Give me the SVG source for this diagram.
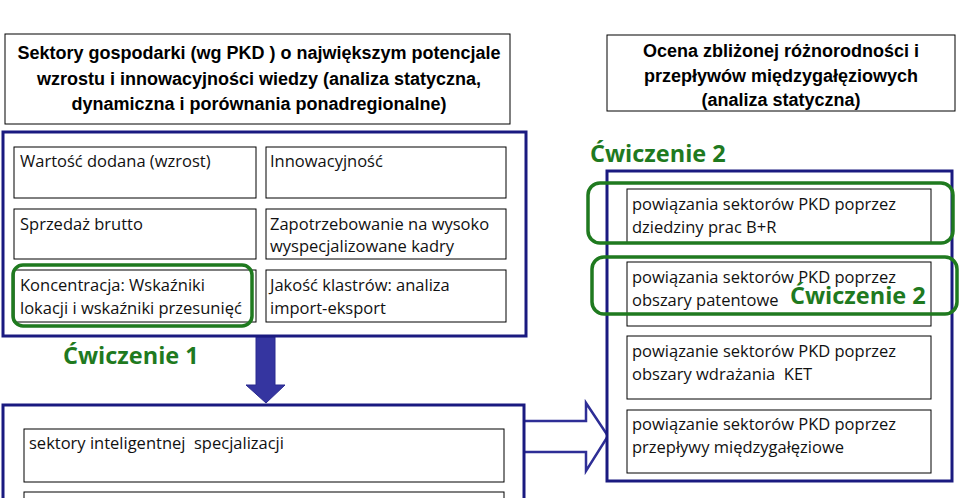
<svg xmlns="http://www.w3.org/2000/svg" width="971" height="498" viewBox="0 0 971 498">
<style>
.hdr{fill:#fff;stroke:#000;stroke-width:1}
.outer{fill:#fff;stroke:#1a1a80;stroke-width:3}
.box{fill:#fff;stroke:#000;stroke-width:1}
.hl{fill:none;stroke:#1f7a1f;stroke-width:3.5}
.ht{font-family:"Liberation Sans",Arial,sans-serif;font-weight:bold;font-size:18px;fill:#000;text-anchor:middle}
.t{font-family:"Open Sans","Liberation Sans",sans-serif;font-size:16.5px;fill:#111;white-space:pre}
.g{font-family:"Open Sans","Liberation Sans",sans-serif;font-weight:bold;font-size:23.5px;fill:#1f7a1f}
</style>
<rect width="971" height="498" fill="#fff"/>
<g id="hdr-left">
<rect class="hdr" x="5" y="34" width="505" height="90"/>
<text class="ht" x="259" y="59">Sektory gospodarki (wg PKD ) o największym potencjale</text>
<text class="ht" x="259" y="85">wzrostu i innowacyjności wiedzy (analiza statyczna,</text>
<text class="ht" x="259" y="110">dynamiczna i porównania ponadregionalne)</text>
</g>
<g id="hdr-right">
<rect class="hdr" x="607" y="35" width="348" height="76"/>
<text class="ht" x="781" y="57">Ocena zbliżonej różnorodności i</text>
<text class="ht" x="781" y="82">przepływów międzygałęziowych</text>
<text class="ht" x="781" y="106">(analiza statyczna)</text>
</g>
<g id="connectors">
<path d="M256,337 H275 V385 H285 L266,403 L246,385 H256 Z" fill="#3535a0" stroke="#2a2a90" stroke-width="1"/>
<path d="M524,421 H586 V403 L608,436 L586,471 V452 H524" fill="#fff" stroke="#2e2e96" stroke-width="2.5" stroke-linejoin="miter"/>
</g>
<g id="panel-left">
<rect class="outer" x="3" y="132" width="523" height="204"/>
<g id="n-wartosc"><rect class="box" x="14" y="147" width="242" height="51"/><text class="t" x="20" y="167">Wartość dodana (wzrost)</text></g>
<g id="n-innow"><rect class="box" x="266" y="147" width="240" height="51"/><text class="t" x="270" y="167">Innowacyjność</text></g>
<g id="n-sprzedaz"><rect class="box" x="14" y="209" width="242" height="50"/><text class="t" x="20" y="230">Sprzedaż brutto</text></g>
<g id="n-zapotrz"><rect class="box" x="266" y="209" width="240" height="50"/><text class="t" x="270" y="230">Zapotrzebowanie na wysoko</text><text class="t" x="270" y="252">wyspecjalizowane kadry</text></g>
<g id="n-koncentr"><rect class="box" x="14" y="270" width="242" height="52"/><text class="t" x="20" y="291">Koncentracja: Wskaźniki</text><text class="t" x="20" y="314">lokacji i wskaźniki przesunięć</text></g>
<g id="n-jakosc"><rect class="box" x="266" y="270" width="240" height="52"/><text class="t" x="270" y="291">Jakość klastrów: analiza</text><text class="t" x="270" y="314">import-eksport</text></g>
<rect class="hl" x="13" y="265" width="239" height="61" rx="10"/>
</g>
<text class="g" x="63" y="364">Ćwiczenie 1</text>
<g id="panel-bottom">
<rect class="outer" x="3" y="405" width="521" height="100"/>
<g id="n-sektory"><rect class="box" x="24" y="429" width="480" height="53"/><text class="t" x="29" y="449">sektory inteligentnej  specjalizacji</text></g>
<rect class="box" x="24" y="492" width="480" height="20"/>
</g>
<text class="g" x="590" y="162">Ćwiczenie 2</text>
<g id="panel-right">
<rect class="outer" x="607" y="171" width="345" height="310"/>
<g id="n-br"><rect class="box" x="627" y="189" width="304" height="54"/><text class="t" x="632" y="210">powiązania sektorów PKD poprzez</text><text class="t" x="632" y="233">dziedziny prac B+R</text></g>
<g id="n-pat"><rect class="box" x="627" y="262" width="304" height="64"/><text class="t" x="632" y="283">powiązania sektorów PKD poprzez</text><text class="t" x="632" y="306">obszary patentowe</text></g>
<g id="n-ket"><rect class="box" x="627" y="336" width="304" height="63"/><text class="t" x="632" y="357">powiązanie sektorów PKD poprzez</text><text class="t" x="632" y="380">obszary wdrażania  KET</text></g>
<g id="n-przep"><rect class="box" x="627" y="410" width="304" height="63"/><text class="t" x="632" y="430">powiązanie sektorów PKD poprzez</text><text class="t" x="632" y="453">przepływy międzygałęziowe</text></g>
<rect class="hl" x="588" y="183" width="365" height="60" rx="12"/>
<rect class="hl" x="592" y="257" width="365" height="57" rx="12"/>
</g>
<text class="g" x="790" y="304">Ćwiczenie 2</text>
</svg>
